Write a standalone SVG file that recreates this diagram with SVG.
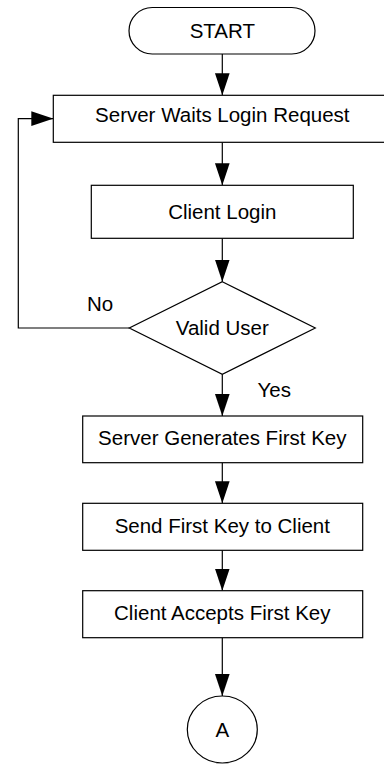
<svg xmlns="http://www.w3.org/2000/svg" width="384" height="765" viewBox="0 0 384 765">
<style>
.s{fill:#fff;stroke:#000;stroke-width:1.2}
.t{font-family:"Liberation Sans",Arial,sans-serif;font-size:20.5px;fill:#000;text-anchor:middle}
.l{font-family:"Liberation Sans",Arial,sans-serif;font-size:20.5px;fill:#000}
.c{fill:none;stroke:#000;stroke-width:1.2}
</style>
<defs>
<marker id="ah" markerUnits="userSpaceOnUse" markerWidth="22" markerHeight="16" viewBox="0 0 21 14" refX="21" refY="7" orient="auto">
<path d="M0,0 L21,7 L0,14 Z" fill="#000"/>
</marker>
</defs>
<rect width="384" height="765" fill="#fff"/>
<g id="connectors">
<line class="c" x1="222.3" y1="54" x2="222.3" y2="95.3" marker-end="url(#ah)"/>
<line class="c" x1="222.3" y1="142.3" x2="222.3" y2="185.3" marker-end="url(#ah)"/>
<line class="c" x1="222.3" y1="238.3" x2="222.3" y2="281.7" marker-end="url(#ah)"/>
<polyline class="c" points="129.3,328 18.3,328 18.3,118.7 53.3,118.7" marker-end="url(#ah)"/>
<line class="c" x1="222.3" y1="374.3" x2="222.3" y2="416" marker-end="url(#ah)"/>
<line class="c" x1="222.3" y1="462.7" x2="222.3" y2="503.3" marker-end="url(#ah)"/>
<line class="c" x1="222.3" y1="550.3" x2="222.3" y2="590.7" marker-end="url(#ah)"/>
<line class="c" x1="222.3" y1="637.7" x2="222.3" y2="696" marker-end="url(#ah)"/>
<text class="l" x="87" y="310.7">No</text>
<text class="l" x="257.5" y="397.3">Yes</text>
</g>
<g id="start">
<rect class="s" x="129" y="7.5" width="186" height="46.5" rx="23.25"/>
<text class="t" x="222.3" y="38.3">START</text>
</g>
<g id="wait">
<rect class="s" x="53.3" y="95.3" width="338" height="47"/>
<text class="t" x="222.3" y="121.7">Server Waits Login Request</text>
</g>
<g id="login">
<rect class="s" x="91.3" y="185.3" width="262" height="53"/>
<text class="t" x="222.3" y="218.7">Client Login</text>
</g>
<g id="valid">
<polygon class="s" points="222.3,281.7 315.3,328 222.3,374.3 129.3,328"/>
<text class="t" x="222.3" y="335">Valid User</text>
</g>
<g id="generate">
<rect class="s" x="82.7" y="416" width="280" height="46.7"/>
<text class="t" x="222.3" y="445">Server Generates First Key</text>
</g>
<g id="send">
<rect class="s" x="82.7" y="503.3" width="280" height="47"/>
<text class="t" x="222.3" y="532.7">Send First Key to Client</text>
</g>
<g id="accept">
<rect class="s" x="82.7" y="590.7" width="280" height="47"/>
<text class="t" x="222.3" y="620">Client Accepts First Key</text>
</g>
<g id="connA">
<ellipse class="s" cx="222.3" cy="729.5" rx="35" ry="33.5"/>
<text class="t" x="222.3" y="736.7">A</text>
</g>
</svg>
